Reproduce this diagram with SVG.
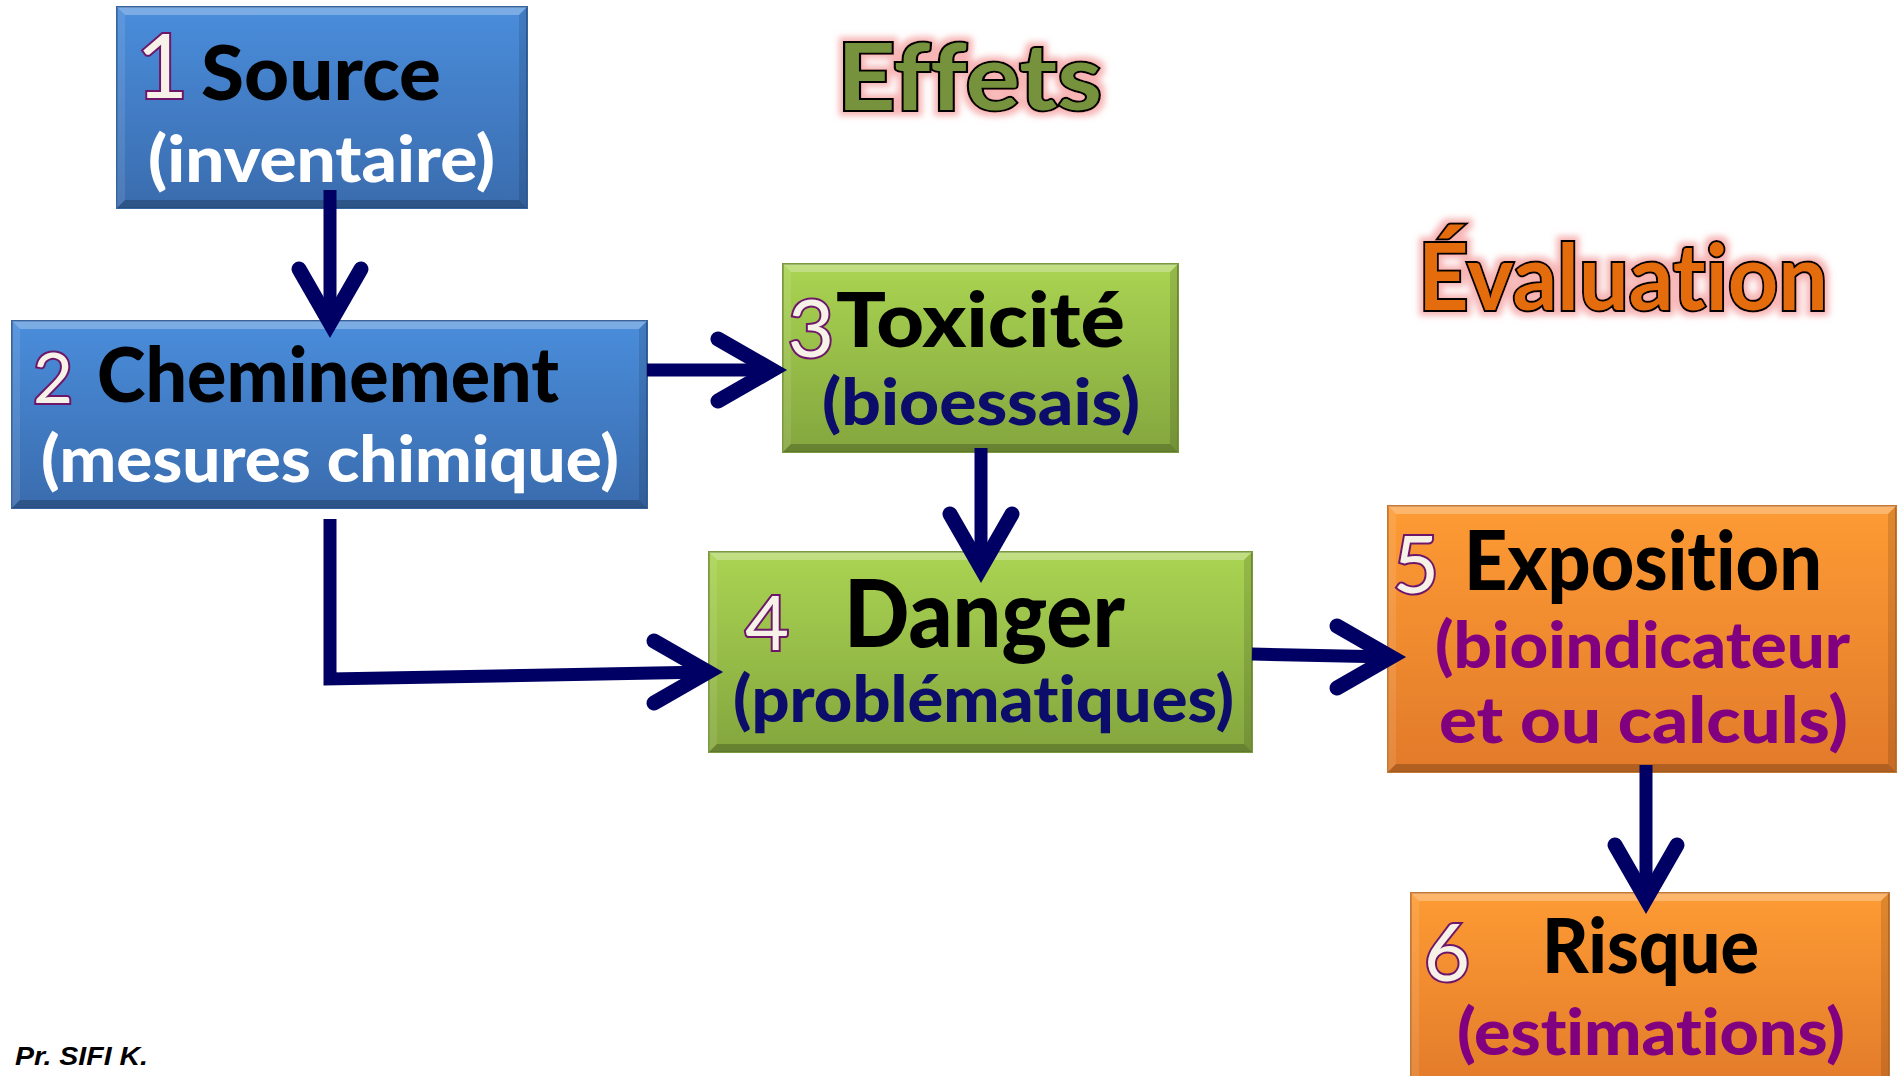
<svg xmlns="http://www.w3.org/2000/svg" width="1897" height="1076" viewBox="0 0 1897 1076">
<defs>
<linearGradient id="gBlue" x1="0" y1="0" x2="0" y2="1"><stop offset="0" stop-color="#4a8ddb"/><stop offset="1" stop-color="#3a6cae"/></linearGradient>
<linearGradient id="gGreen" x1="0" y1="0" x2="0" y2="1"><stop offset="0" stop-color="#aad452"/><stop offset="1" stop-color="#84a63e"/></linearGradient>
<linearGradient id="gOrange" x1="0" y1="0" x2="0" y2="1"><stop offset="0" stop-color="#fd9b34"/><stop offset="1" stop-color="#e27a2a"/></linearGradient>
<filter id="glow" x="-20%" y="-50%" width="140%" height="200%">
<feMorphology in="SourceAlpha" operator="dilate" radius="4" result="d"/>
<feGaussianBlur in="d" stdDeviation="3" result="b"/>
<feFlood flood-color="#f07878" flood-opacity="0.55"/>
<feComposite in2="b" operator="in" result="g"/>
<feMerge><feMergeNode in="g"/><feMergeNode in="SourceGraphic"/></feMerge>
</filter>
</defs>
<style>
text{font-variant-ligatures:none;font-feature-settings:"liga" 0,"dlig" 0}
.t{font-family:Lato,"DejaVu Sans",sans-serif;font-weight:900}
.num{font-family:Lato,"DejaVu Sans",sans-serif;font-weight:400;fill:#f6f2e8;stroke:#6e176a;stroke-width:4;paint-order:stroke;text-anchor:middle}
.main{fill:#000;font-size:76px}
.sub{font-size:64px}
.w{fill:#fff}.navy{fill:#0c0c6a}.pur{fill:#800080}
.hl{fill:#fff;fill-opacity:.28}
.hls{fill:#fff;fill-opacity:.1}
.dk{fill:#000;fill-opacity:.12}
.dkb{fill:#000;fill-opacity:.22}
.big{font-size:92px;font-weight:700;stroke:#000;stroke-width:4;paint-order:stroke;filter:url(#glow)}
.ln{fill:none;stroke:#000064;stroke-width:13}
.hd{fill:none;stroke:#000064;stroke-width:15;stroke-linecap:round;stroke-linejoin:miter}
</style>

<g id="node1">
<rect x="117" y="7" width="410" height="201" fill="url(#gBlue)" stroke="#3564a2" stroke-width="2"/>
<polygon class="hl" points="117,7 527,7 519,15 125,15"/>
<polygon class="hls" points="117,7 125,15 125,200 117,208"/>
<polygon class="dk" points="527,7 527,208 519,200 519,15"/>
<polygon class="dkb" points="117,208 527,208 519,200 125,200"/>
<text class="num" x="162" y="98" font-size="90">1</text>
<text class="t main" x="201" y="100" textLength="240" lengthAdjust="spacingAndGlyphs">Source</text>
<text class="t sub w" x="148" y="182" textLength="347" lengthAdjust="spacingAndGlyphs">(inventaire)</text>
</g>

<g id="node2">
<rect x="12" y="321" width="635" height="187" fill="url(#gBlue)" stroke="#3564a2" stroke-width="2"/>
<polygon class="hl" points="12,321 647,321 639,329 20,329"/>
<polygon class="hls" points="12,321 20,329 20,500 12,508"/>
<polygon class="dk" points="647,321 647,508 639,500 639,329"/>
<polygon class="dkb" points="12,508 647,508 639,500 20,500"/>
<text class="num" x="53" y="403" font-size="69">2</text>
<text class="t main" x="97" y="402" textLength="462" lengthAdjust="spacingAndGlyphs">Cheminement</text>
<text class="t sub w" x="41" y="482" textLength="578" lengthAdjust="spacingAndGlyphs">(mesures chimique)</text>
</g>

<g id="node3">
<rect x="783" y="264" width="395" height="188" fill="url(#gGreen)" stroke="#7a9a3c" stroke-width="2"/>
<polygon class="hl" points="783,264 1178,264 1170,272 791,272"/>
<polygon class="hls" points="783,264 791,272 791,444 783,452"/>
<polygon class="dk" points="1178,264 1178,452 1170,444 1170,272"/>
<polygon class="dkb" points="783,452 1178,452 1170,444 791,444"/>
<text class="num" x="811" y="357" font-size="80">3</text>
<text class="t main" x="836" y="347" textLength="289" lengthAdjust="spacingAndGlyphs">Toxicité</text>
<text class="t sub navy" x="822" y="425" textLength="318" lengthAdjust="spacingAndGlyphs">(bioessais)</text>
</g>

<g id="node4">
<rect x="709" y="552" width="543" height="200" fill="url(#gGreen)" stroke="#7a9a3c" stroke-width="2"/>
<polygon class="hl" points="709,552 1252,552 1244,560 717,560"/>
<polygon class="hls" points="709,552 717,560 717,744 709,752"/>
<polygon class="dk" points="1252,552 1252,752 1244,744 1244,560"/>
<polygon class="dkb" points="709,752 1252,752 1244,744 717,744"/>
<text class="num" x="767" y="650" font-size="76">4</text>
<text class="t" x="844" y="647" font-size="94" fill="#000" textLength="281" lengthAdjust="spacingAndGlyphs">Danger</text>
<text class="t navy" x="733" y="722" font-size="64" textLength="501" lengthAdjust="spacingAndGlyphs">(problématiques)</text>
</g>

<g id="node5">
<rect x="1388" y="506" width="508" height="266" fill="url(#gOrange)" stroke="#c8772e" stroke-width="2"/>
<polygon class="hl" points="1388,506 1896,506 1888,514 1396,514"/>
<polygon class="hls" points="1388,506 1396,514 1396,764 1388,772"/>
<polygon class="dk" points="1896,506 1896,772 1888,764 1888,514"/>
<polygon class="dkb" points="1388,772 1896,772 1888,764 1396,764"/>
<text class="num" x="1416" y="593" font-size="80">5</text>
<text class="t" x="1464" y="590" font-size="82" fill="#000" textLength="358" lengthAdjust="spacingAndGlyphs">Exposition</text>
<text class="t sub pur" x="1435" y="668" textLength="415" lengthAdjust="spacingAndGlyphs">(bioindicateur</text>
<text class="t sub pur" x="1439" y="743" textLength="409" lengthAdjust="spacingAndGlyphs">et ou calculs)</text>
</g>

<g id="node6">
<rect x="1411" y="893" width="478" height="200" fill="url(#gOrange)" stroke="#c8772e" stroke-width="2"/>
<polygon class="hl" points="1411,893 1889,893 1881,901 1419,901"/>
<polygon class="hls" points="1411,893 1419,901 1419,1093 1411,1093"/>
<polygon class="dk" points="1889,893 1889,1093 1881,1093 1881,901"/>
<text class="num" x="1447" y="981" font-size="80">6</text>
<text class="t main" x="1542" y="973" textLength="217" lengthAdjust="spacingAndGlyphs">Risque</text>
<text class="t sub pur" x="1457" y="1055" textLength="388" lengthAdjust="spacingAndGlyphs">(estimations)</text>
</g>

<g id="titles">
<text class="t big" x="837" y="110" fill="#76923c" textLength="265" lengthAdjust="spacingAndGlyphs">Effets</text>
<text class="t big" x="1418" y="310" font-size="96" fill="#e46c0a" textLength="410" lengthAdjust="spacingAndGlyphs">Évaluation</text>
<text x="15" y="1065" font-family="'Liberation Sans',Arial,sans-serif" font-weight="700" font-style="italic" font-size="25" fill="#000" textLength="133" lengthAdjust="spacingAndGlyphs">Pr. SIFI K.</text>
</g>

<g id="connectors">
<path class="ln" d="M330,190 V322"/>
<path class="hd" d="M299,269 L330,323 L361,269"/>
<path class="ln" d="M647,370 H772"/>
<path class="hd" d="M718,339 L772,370 L718,401"/>
<path class="ln" d="M330,519 L330,679 L708,672" stroke-linejoin="miter"/>
<path class="hd" d="M654,641 L708,672 L654,703"/>
<path class="ln" d="M981,448 V568"/>
<path class="hd" d="M950,514 L981,568 L1012,514"/>
<path class="ln" d="M1252,654 L1391,657"/>
<path class="hd" d="M1337,626 L1391,657 L1337,688"/>
<path class="ln" d="M1646,765 V899"/>
<path class="hd" d="M1615,845 L1646,899 L1677,845"/>
</g>
</svg>
